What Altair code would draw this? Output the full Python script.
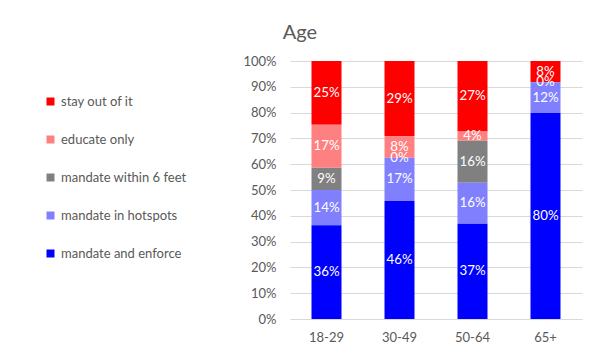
import altair as alt
import pandas as pd

ages = ["18-29", "30-49", "50-64", "65+"]
series = ["stay out of it", "educate only", "mandate within 6 feet",
          "mandate in hotspots", "mandate and enforce"]
colors = ["#FF0000", "#FF8080", "#808080", "#8080FF", "#0000FF"]
y_ticks = [0.0, 0.1, 0.2, 0.3, 0.4, 0.5, 0.6, 0.7, 0.8, 0.9, 1.0]

# values per series, in age order
stay_out = [0.247, 0.291, 0.273, 0.082]
educate = [0.167, 0.084, 0.036, None]
within_6ft = [0.086, 0.0, 0.163, 0.0]
hotspots = [0.137, 0.168, 0.159, 0.120]
enforce = [0.363, 0.457, 0.369, 0.798]

vals = [stay_out, educate, within_6ft, hotspots, enforce]
rows = []
for si, (s, v) in enumerate(zip(series, vals)):
    for a, x in zip(ages, v):
        if x is not None:
            rows.append({"age": a, "series": s, "v": x, "ord": 4 - si})
df = pd.DataFrame(rows)

FONT = "Lato"
GREY = "#595959"

x_axis = alt.Axis(labelAngle=0, ticks=False, domainColor="#d9d9d9",
                  labelColor=GREY, labelFontSize=13, labelFont=FONT,
                  labelPadding=12)
y_axis = alt.Axis(format=".0%", values=y_ticks, labelOverlap=False,
                  domain=False, ticks=False, gridColor="#d9d9d9",
                  labelColor=GREY, labelFontSize=13, labelFont=FONT,
                  labelPadding=14)
y_scale = alt.Scale(domain=[0, 1], nice=False)

base = alt.Chart(df).transform_stack(
    stack="v", groupby=["age"], as_=["v0", "v1"],
    sort=[alt.SortField("ord", order="ascending")]
).transform_calculate(mid="(datum.v0 + datum.v1) / 2")

bars = base.mark_bar(size=30).encode(
    x=alt.X("age:N", sort=ages, title=None, axis=x_axis),
    y=alt.Y("v0:Q", title=None, scale=y_scale, axis=y_axis),
    y2="v1:Q",
    color=alt.Color("series:N", scale=alt.Scale(domain=series, range=colors),
                    legend=alt.Legend(title=None, orient="none", legendX=-246,
                                      legendY=34, symbolType="square",
                                      symbolSize=64, symbolStrokeWidth=0,
                                      labelFontSize=13, labelFont=FONT,
                                      labelColor=GREY, rowPadding=24,
                                      labelOffset=4, padding=0)),
)

labels = base.mark_text(color="white", fontSize=13.3, font=FONT).encode(
    x=alt.X("age:N", sort=ages, title=None, axis=x_axis),
    y=alt.Y("mid:Q", title=None, scale=y_scale, axis=y_axis),
    text=alt.Text("v:Q", format=".0%"),
)

chart = alt.layer(bars, labels).properties(
    width=292, height=258,
    title=alt.TitleParams("Age", anchor="middle", dx=-136, dy=29, offset=25,
                          baseline="alphabetic", fontSize=20, font=FONT,
                          color=GREY, fontWeight="normal"),
    autosize=alt.AutoSizeParams(type="none"),
    padding={"left": 282, "top": 53, "right": 3, "bottom": 30},
).configure_view(stroke=None).configure_scale(bandPaddingInner=0.59)

chart.save("out.html", embed_options={"renderer": "svg", "actions": False})
